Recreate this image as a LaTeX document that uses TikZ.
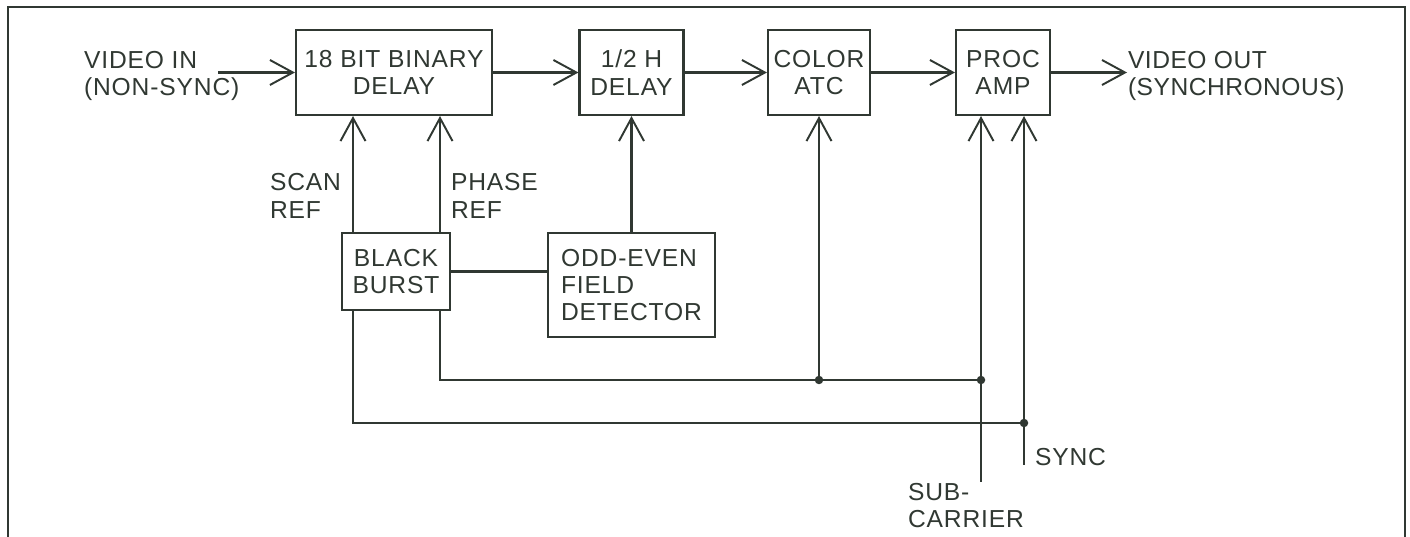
\documentclass[tikz,border=0pt]{standalone}
\usepackage{fontspec}
\setmainfont{Liberation Sans}[LetterSpace=3.5]
\usepackage{xcolor}
\usepackage{tikz}
\usetikzlibrary{arrows.meta}
\usetikzlibrary{positioning}
\definecolor{ink}{RGB}{48,56,50}
\begin{document}
\begin{tikzpicture}[
    color=ink,
    every path/.style={line width=1.2pt},
    every node/.style={font=\fontsize{14}{15.5}\selectfont},
    block/.style={rectangle, draw, line width=1.2pt, minimum height=1.7cm, align=center, inner sep=2pt},
    edge label/.style={rectangle, draw=none, align=left, inner sep=0.1cm},
    lbl/.style={rectangle, draw=none, align=left, inner sep=0pt},
    sig/.style={-{Straight Barb[length=4.6mm, width=5mm, line width=1.1pt]}},
    dot/.style={circle, fill, inner sep=0pt, minimum size=0.17cm},
  ]
  \useasboundingbox (0,0) rectangle (28.2,10.74);

  % Frame (open at the bottom)
  \draw[line width=1.5pt] (0.16,0) -- (0.16,10.60) -- (28.10,10.60) -- (28.10,0);

  % Main signal chain
  \node[block, minimum width=3.92cm] (bindelay) at (7.88,9.29)  {18 BIT BINARY\\DELAY};
  \node[block, minimum width=2.08cm] (hdelay)   at (12.63,9.29) {1/2 H\\DELAY};
  \node[block, minimum width=2.04cm] (coloratc) at (16.38,9.29) {COLOR\\ATC};
  \node[block, minimum width=1.88cm] (procamp)  at (20.06,9.29) {PROC\\AMP};

  % Reference blocks
  \node[block, minimum width=2.16cm, minimum height=1.54cm] (blackburst) at (7.92,5.31) {BLACK\\BURST};
  \node[block, minimum width=3.34cm, minimum height=2.08cm, align=left] (oddeven) at (12.63,5.04) {ODD-EVEN\\FIELD\\DETECTOR};

  % Input and output
  \node[lbl, anchor=west] (videoin)  at (1.66,9.22)  {VIDEO IN\\(NON-SYNC)};
  \node[lbl, anchor=west] (videoout) at (22.54,9.22) {\addfontfeature{LetterSpace=2}VIDEO OUT\\\addfontfeature{LetterSpace=2}(SYNCHRONOUS)};
  \coordinate (vin) at (4.36,9.29);

  % Tap points
  \coordinate (scan)     at (7.06,0);
  \coordinate (phase)    at (8.80,0);
  \coordinate (atcjoin)  at (16.38,3.14);
  \coordinate (subjoin)  at (19.62,3.14);
  \coordinate (syncjoin) at (20.48,2.28);
  \coordinate (subend)   at (19.62,1.10);
  \coordinate (syncend)  at (20.48,1.44);

  % Chain arrows
  \draw[sig] (vin) -- (bindelay.west);
  \draw[sig] (bindelay) -- (hdelay);
  \draw[sig] (hdelay) -- (coloratc);
  \draw[sig] (coloratc) -- (procamp);
  \draw[sig] (procamp.east) -- (procamp.east -| videoout.west);

  % Black burst references
  \draw[sig] (blackburst.north -| scan) -- node[edge label, left=0.12cm, pos=0.31] {SCAN\\REF} (bindelay.south -| scan);
  \draw[sig] (blackburst.north -| phase) -- node[edge label, right=0.1cm, pos=0.31] {PHASE\\REF} (bindelay.south -| phase);
  \draw (blackburst.east) -- (blackburst.east -| oddeven.west);
  \draw[sig] (oddeven.north) -- (hdelay.south);

  % Buses along the bottom
  \draw (blackburst.south -| phase) |- (subjoin);
  \draw (blackburst.south -| scan) |- (syncjoin);
  \draw[sig] (atcjoin) -- (coloratc.south);
  \draw[sig] (subend) -- (procamp.south -| subend);
  \draw[sig] (syncend) -- (procamp.south -| syncend);
  \node[dot] (d1) at (atcjoin)  {};
  \node[dot] (d2) at (subjoin)  {};
  \node[dot] (d3) at (syncjoin) {};

  % Outside inputs
  \node[lbl, anchor=north west] (sublbl)  at (18.14,1.10) {SUB-\\CARRIER};
  \node[lbl, anchor=south west] (synclbl) at (20.68,1.40) {SYNC};

\end{tikzpicture}
\end{document}
